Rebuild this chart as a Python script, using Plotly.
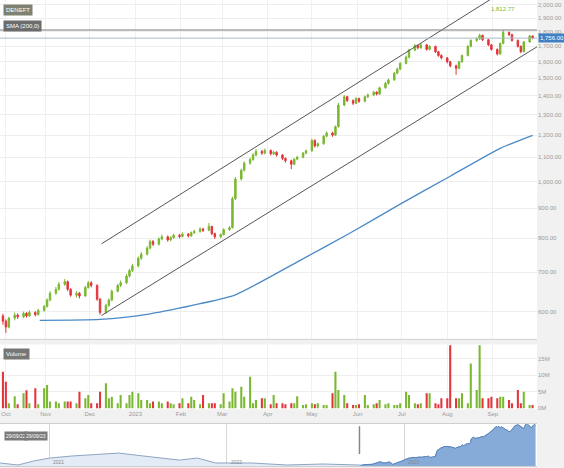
import math
import pandas as pd
import plotly.graph_objects as go

# ---------------- data ----------------
first_open = 590
close = [578, 565, 585, 592, 588, 596, 590, 598, 593, 603,
         612, 628, 645, 655, 668, 675, 655, 640, 645, 638,
         660, 672, 665, 630, 598, 615, 628, 650, 665, 672,
         690, 705, 718, 740, 752, 770, 790, 782, 798, 805,
         795, 802, 810, 806, 814, 808, 818, 822, 830, 826,
         838, 815, 805, 812, 828, 834, 935, 1010, 1045, 1075,
         1090, 1110, 1125, 1118, 1130, 1115, 1122, 1110, 1095, 1085,
         1070, 1092, 1100, 1118, 1128, 1175, 1150, 1160, 1195, 1210,
         1200, 1240, 1350, 1395, 1375, 1360, 1385, 1370, 1395, 1405,
         1420, 1410, 1445, 1470, 1490, 1530, 1555, 1590, 1630, 1675,
         1705, 1690, 1710, 1680, 1700, 1665, 1640, 1625, 1600, 1575,
         1560, 1600, 1640, 1700, 1740, 1750, 1775, 1745, 1710, 1680,
         1650, 1720, 1795, 1780, 1740, 1700, 1665, 1730, 1770, 1756]
high = [595, 582, 588, 598, 596, 600, 599, 603, 601, 607,
        616, 632, 650, 661, 674, 682, 678, 658, 650, 648,
        664, 677, 676, 668, 633, 619, 632, 654, 669, 678,
        695, 710, 724, 745, 758, 776, 796, 795, 803, 812,
        809, 807, 815, 814, 819, 817, 822, 828, 836, 834,
        850, 841, 818, 816, 832, 839, 942, 1018, 1052, 1082,
        1098, 1118, 1136, 1132, 1138, 1134, 1128, 1126, 1114, 1099,
        1090, 1096, 1106, 1123, 1134, 1183, 1180, 1166, 1201, 1218,
        1216, 1246, 1362, 1405, 1400, 1380, 1392, 1390, 1401, 1412,
        1428, 1425, 1451, 1478, 1498, 1538, 1564, 1598, 1640, 1684,
        1716, 1712, 1720, 1715, 1708, 1704, 1670, 1648, 1630, 1606,
        1582, 1606, 1646, 1708, 1748, 1762, 1786, 1780, 1750, 1716,
        1686, 1726, 1812.77, 1802, 1786, 1746, 1706, 1736, 1778, 1775]
low = [570, 552, 562, 580, 583, 585, 586, 588, 589, 591,
       600, 610, 625, 641, 652, 664, 650, 636, 634, 632,
       636, 657, 660, 626, 593, 595, 612, 625, 647, 661,
       669, 686, 701, 714, 735, 748, 766, 776, 778, 794,
       790, 791, 798, 800, 803, 803, 805, 814, 818, 820,
       823, 810, 798, 801, 809, 824, 832, 930, 1004, 1040,
       1068, 1085, 1104, 1110, 1112, 1108, 1110, 1103, 1088, 1077,
       1050, 1066, 1087, 1096, 1113, 1124, 1143, 1144, 1155, 1190,
       1192, 1196, 1236, 1344, 1366, 1350, 1355, 1362, 1365, 1388,
       1398, 1402, 1405, 1440, 1463, 1485, 1524, 1548, 1584, 1622,
       1668, 1680, 1684, 1672, 1674, 1656, 1632, 1615, 1590, 1566,
       1520, 1554, 1594, 1635, 1694, 1730, 1745, 1736, 1702, 1672,
       1640, 1645, 1714, 1770, 1732, 1692, 1655, 1660, 1724, 1748]
volume = [11, 8, 1.5, 3.6, 1.2, 4.5, 5.4, 1.5, 6, 1.2,
          6, 7, 2, 2, 1.5, 2, 2, 2, 1.5, 5,
          3, 4, 1.5, 1.5, 5, 7.5, 3, 3.5, 1.5, 4,
          1.5, 4, 5, 4.5, 2.5, 2.5, 1.5, 2, 2, 1.5,
          2, 1.5, 1.2, 1.5, 3, 1.5, 3.5, 2.5, 1.2, 4,
          1.5, 1.5, 1.5, 1.2, 4.5, 2, 6, 5, 6.5, 3.5,
          9.5, 1.5, 2.5, 3, 3, 1.2, 4, 1.5, 1.5, 1.2,
          1.5, 1.5, 3.6, 1, 1.2, 1.5, 1.2, 1.5, 1, 1,
          4.5, 11, 5.5, 4, 1.5, 1, 1, 1.2, 4, 1,
          1.2, 1.5, 2.5, 1.2, 1.5, 1, 1, 1.5, 5, 4,
          1.5, 1.2, 1.5, 4.5, 4.5, 1.5, 1.2, 3, 3, 19,
          3, 3, 4.5, 1.5, 13.5, 5.5, 19, 3, 3, 3.5,
          3, 3.5, 3.5, 2.5, 1.5, 5.5, 1.5, 5, 1, 1]

sma_dates = ["2022-10-28", "2022-12-08", "2023-01-11", "2023-02-14", "2023-03-10",
             "2023-04-23", "2023-05-27", "2023-06-30", "2023-08-03", "2023-09-06", "2023-09-28"]
sma_values = [580, 582, 595, 619, 641, 734, 817, 915, 1021, 1139, 1199]

channel_dates = ["2022-12-09", "2023-10-01"]
channel_upper = [783, 2293]
channel_lower = [591, 1697]

nav_dates = ["2020-09-22", "2020-10-29", "2020-12-01", "2021-01-03", "2021-02-17",
             "2021-04-15", "2021-05-24", "2021-07-14", "2021-09-26", "2021-11-02",
             "2021-12-09", "2022-02-21", "2022-05-05", "2022-07-18", "2022-09-10"]
nav_values = [640, 580, 700, 785, 845, 900, 930, 845, 725, 785, 640, 640, 580, 610, 600]

month_ticks = ["2022-10-05", "2022-11-01", "2022-12-01", "2023-01-01", "2023-02-01", "2023-03-01",
               "2023-04-01", "2023-05-01", "2023-06-01", "2023-07-01", "2023-08-01", "2023-09-01"]
month_labels = ["Oct", "Nov", "Dec", "2023", "Feb", "Mar", "Apr", "May", "Jun", "Jul", "Aug", "Sep"]
price_ticks = [600, 700, 800, 900, 1000, 1100, 1200, 1300, 1400, 1500, 1600, 1700, 1800, 1900, 2000]
vol_ticks = [0, 5, 10, 15]
vol_labels = ["0M", "5M", "10M", "15M"]
nav_year_ticks = ["2021-01-01", "2022-01-01", "2023-01-01"]
nav_year_labels = ["2021", "2022", "2023"]

ticker = "DENEFT"
sma_label = "SMA (200,0)"
range_start, range_end = "2022-10-01", "2023-10-01"
nav_start = "2020-09-22"

# ---------------- build ----------------
dates = pd.bdate_range("2022-10-03", periods=len(close), freq="2B")
opens = [first_open] + close[:-1]
G, R = "#79b830", "#e4343c"
vcolors = [G if c >= o else R for o, c in zip(opens, close)]
imax = max(range(len(high)), key=lambda i: high[i])

fig = go.Figure()
fig.add_trace(go.Scatter(x=channel_dates, y=channel_upper, mode="lines",
                         line=dict(color="#555", width=1), xaxis="x", yaxis="y", hoverinfo="skip"))
fig.add_trace(go.Scatter(x=channel_dates, y=channel_lower, mode="lines",
                         line=dict(color="#555", width=1), xaxis="x", yaxis="y", hoverinfo="skip"))
fig.add_trace(go.Scatter(x=[range_start, range_end], y=[close[-1]] * 2, mode="lines",
                         line=dict(color="#a9b9c9", width=1), xaxis="x", yaxis="y"))
fig.add_trace(go.Scatter(x=[range_start, range_end], y=[high[imax]] * 2, mode="lines",
                         line=dict(color="#7a7a7a", width=1.2), xaxis="x", yaxis="y"))
fig.add_trace(go.Scatter(x=sma_dates, y=sma_values, mode="lines",
                         line=dict(color="#4a8ac6", width=1.3, shape="spline", smoothing=0.6),
                         xaxis="x", yaxis="y"))
fig.add_trace(go.Candlestick(x=dates, open=opens, high=high, low=low, close=close,
                             increasing=dict(line=dict(color=G, width=1), fillcolor=G),
                             decreasing=dict(line=dict(color=R, width=1), fillcolor=R),
                             xaxis="x", yaxis="y"))
fig.add_trace(go.Bar(x=dates, y=volume, marker=dict(color=vcolors, line=dict(width=0)),
                     xaxis="x2", yaxis="y2"))
fig.add_trace(go.Scatter(x=nav_dates + list(dates), y=nav_values + close, mode="lines",
                         line=dict(color="#8da4c0", width=1), fill="tozeroy", fillcolor="#e3ecf6",
                         xaxis="x3", yaxis="y3"))
fig.add_trace(go.Scatter(x=list(dates), y=close, mode="lines",
                         line=dict(color="#5583bb", width=1), fill="tozeroy", fillcolor="#86abd8",
                         xaxis="x3", yaxis="y3"))

H = 468.0
def py(p):
    return 1 - p / H

small = dict(family="Liberation Sans, Arial", size=6, color="#9a9a9a")
fig.update_layout(
    width=564, height=468, margin=dict(l=0, r=27, t=0, b=0),
    paper_bgcolor="#f1f1f1", plot_bgcolor="#ffffff", showlegend=False,
    font=dict(family="Liberation Sans, Arial", size=6, color="#999"),
    bargap=0.3, hovermode=False,
    xaxis=dict(domain=[0, 1], anchor="y", type="date", range=[range_start, range_end],
               tickvals=month_ticks, showticklabels=False, showgrid=True, gridcolor="#f0f0f0",
               rangeslider=dict(visible=False), showline=True, linecolor="#d5d5d5", zeroline=False, ticks=""),
    yaxis=dict(domain=[py(340), 1], type="log", range=[2.7323, 3.3095], side="right",
               tickvals=price_ticks, ticktext=[f"{v:,.2f}" for v in price_ticks], tickfont=small,
               showgrid=True, gridcolor="#eeeeee", zeroline=False, ticks=""),
    xaxis2=dict(domain=[0, 1], anchor="y2", type="date", matches="x",
                tickvals=month_ticks, ticktext=month_labels, tickfont=small,
                showgrid=True, gridcolor="#f0f0f0", zeroline=False, ticks=""),
    yaxis2=dict(domain=[py(411), py(346)], range=[-0.3, 19.2], side="right",
                tickvals=vol_ticks, ticktext=vol_labels, tickfont=small,
                showgrid=True, gridcolor="#eeeeee", zeroline=False, ticks=""),
    xaxis3=dict(domain=[0, 1], anchor="y3", type="date", range=[nav_start, range_end],
                tickvals=nav_year_ticks, showticklabels=False, showgrid=True, gridcolor="#d6d6d6",
                showline=True, linecolor="#cfcfcf", mirror=True, zeroline=False, ticks=""),
    yaxis3=dict(domain=[0, py(426)], range=[551, 1780], showticklabels=False,
                showgrid=False, zeroline=False),
)

box = dict(family="Liberation Sans, Arial", size=6, color="#ffffff")
ann = [
    dict(text=ticker, xref="paper", yref="paper", x=0.006, y=py(10), xanchor="left", yanchor="middle",
         showarrow=False, bgcolor="#7d8272", font=box, borderpad=2),
    dict(text=sma_label, xref="paper", yref="paper", x=0.006, y=py(26), xanchor="left", yanchor="middle",
         showarrow=False, bgcolor="#6c6c6c", font=box, borderpad=2),
    dict(text="Volume", xref="paper", yref="paper", x=0.006, y=py(356), xanchor="left", yanchor="middle",
         showarrow=False, bgcolor="#767676", font=box, borderpad=2),
    dict(text=f"{close[-1]:,.2f}", xref="paper", yref="y", x=1, y=math.log10(close[-1]),
         xanchor="left", yanchor="middle", xshift=1, showarrow=False, bgcolor="#3f7fc4",
         font=box, borderpad=1),
    dict(text=f"{high[imax]:,.2f}", xref="x", yref="y", x=dates[imax], y=math.log10(high[imax]),
         yshift=21, showarrow=False, font=dict(family="Liberation Sans, Arial", size=6, color="#79b830")),
    dict(text="29/09/22", xref="paper", yref="paper", x=0.007, y=py(438), xanchor="left", yanchor="middle",
         showarrow=False, bgcolor="#7a7a7a", font=dict(family="Liberation Sans, Arial", size=5, color="#fff"),
         borderpad=1),
    dict(text="29/09/23", xref="paper", yref="paper", x=0.045, y=py(438), xanchor="left", yanchor="middle",
         showarrow=False, bgcolor="#7a7a7a", font=dict(family="Liberation Sans, Arial", size=5, color="#fff"),
         borderpad=1),
]
for d, lab in zip(nav_year_ticks, nav_year_labels):
    ann.append(dict(text=lab, xref="x3", yref="paper", x=d, y=py(464), xanchor="left", yanchor="middle",
                    xshift=2, showarrow=False, font=dict(family="Liberation Sans, Arial", size=5, color="#888")))
fig.update_layout(annotations=ann)

fig.add_shape(type="line", xref="x3", yref="paper", x0=range_start, x1=range_start,
              y0=py(456), y1=py(428), line=dict(color="#888", width=1.5))

fig.write_html("out.html", config={"displayModeBar": False, "staticPlot": True},
               post_script="document.body.style.margin='0px';document.body.style.overflow='hidden';")
